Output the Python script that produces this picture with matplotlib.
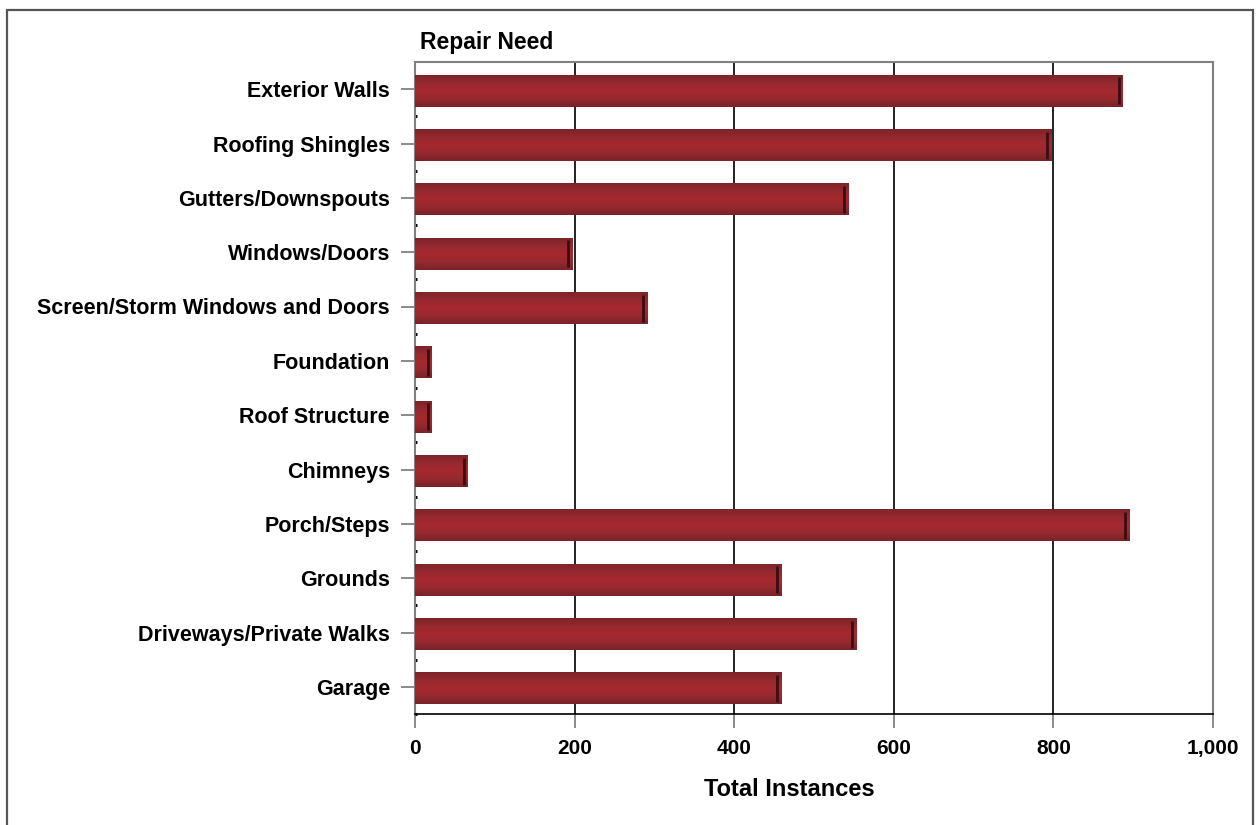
import matplotlib
matplotlib.use("Agg")
import matplotlib.pyplot as plt
import numpy as np
from matplotlib.colors import LinearSegmentedColormap
from matplotlib.patches import Rectangle

categories = ["Exterior Walls", "Roofing Shingles", "Gutters/Downspouts", "Windows/Doors",
              "Screen/Storm Windows and Doors", "Foundation", "Roof Structure", "Chimneys",
              "Porch/Steps", "Grounds", "Driveways/Private Walks", "Garage"]
values = [887, 797, 543, 197, 291, 21, 21, 66, 895, 459, 553, 459]
xticks = [0, 200, 400, 600, 800, 1000]
xtick_labels = ["0", "200", "400", "600", "800", "1,000"]

plt.rcParams['font.family'] = ['Liberation Sans', 'DejaVu Sans']

fig = plt.figure(figsize=(12.56, 8.25), dpi=100)
W, H = 1256, 825
ax = fig.add_axes([415 / W, 1 - 714 / H, (1213 - 415) / W, (714 - 62) / H])

# outer frame
fig.patches.append(Rectangle((7 / W, -0.01), (1253 - 7) / W, 1 - 10 / H + 0.01,
                             transform=fig.transFigure, fill=False,
                             edgecolor='#555555', lw=1.6))

cmap = LinearSegmentedColormap.from_list(
    "barshade", ["#7c2429", "#962930", "#a8282f", "#962930", "#7a2328"])
grad = np.linspace(0, 1, 64).reshape(-1, 1)
h = 0.58
ypos = np.arange(len(categories))
for y, v in zip(ypos, values):
    yc = y + 0.03
    ax.imshow(grad, cmap=cmap, aspect='auto', extent=(0, v, yc + h / 2, yc - h / 2),
              zorder=3, interpolation='bilinear')
    ax.plot([v - 5, v - 5], [yc - h / 2 * 0.85, yc + h / 2 * 0.85], color='#3a0d10',
            lw=2.0, zorder=4, solid_capstyle='butt')

ax.set_xlim(0, 1000)
ax.set_ylim(len(categories) - 0.5, -0.5)
ax.set_aspect('auto')

for xv in xticks[1:-1]:
    ax.axvline(xv, color='#111111', lw=1.3, zorder=1)

ax.set_yticks(ypos)
ax.set_yticklabels(categories, fontsize=15.5, fontweight='bold')
ax.set_yticks(np.arange(len(categories)) + 0.5, minor=True)
ax.tick_params(axis='y', which='major', direction='out', length=10, width=1.2,
               color='#777777', pad=8)
ax.tick_params(axis='y', which='minor', direction='in', length=1.5, width=2.2,
               color='black')
ax.set_xticks(xticks)
ax.set_xticklabels(xtick_labels, fontsize=15, fontweight='bold')
ax.tick_params(axis='x', which='major', direction='out', length=10, width=1.2,
               color='#777777', pad=8)

for s in ['left', 'right', 'top']:
    ax.spines[s].set_color('#808080')
    ax.spines[s].set_linewidth(1.5)
ax.spines['bottom'].set_color('black')
ax.spines['bottom'].set_linewidth(1.2)

ax.set_xlabel("Total Instances", fontsize=17, fontweight='bold')
ax.xaxis.set_label_coords((789 - 415) / 798, (714 - 789) / 652)
ax.xaxis.label.set_va('center')

fig.text(420 / W, 1 - 43 / H, "Repair Need", fontsize=16.5, fontweight='bold',
         ha='left', va='center')

fig.savefig("out.png", dpi=100)
